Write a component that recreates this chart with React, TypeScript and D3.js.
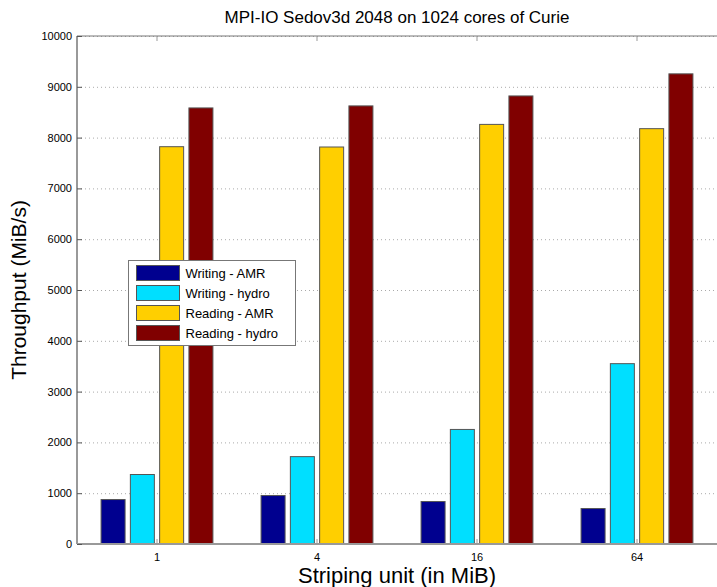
import React, { useRef, useEffect } from "react";
import * as d3 from "d3";

// dati
const categories = ["1", "4", "16", "64"];
const seriesNames = ["Writing - AMR", "Writing - hydro", "Reading - AMR", "Reading - hydro"];
const writingAMR = [875, 954, 836, 698];
const writingHydro = [1368, 1720, 2255, 3550];
const readingAMR = [7821, 7815, 8260, 8176];
const readingHydro = [8584, 8624, 8820, 9255];
const yTicks = [0, 1000, 2000, 3000, 4000, 5000, 6000, 7000, 8000, 9000, 10000];
const colors = ["#00008f", "#00dfff", "#ffcf00", "#800000"];

const W = 717;
const H = 587;
const margin = { top: 36, right: 0, bottom: 43, left: 77 };
const font = "'Liberation Sans', Arial, Helvetica, sans-serif";

export default function App() {
  const svgRef = useRef<SVGSVGElement>(null);

  useEffect(() => {
    const svg = d3.select(svgRef.current);
    svg.selectAll("*").remove();

    const series = [writingAMR, writingHydro, readingAMR, readingHydro];

    const x = d3.scaleLinear().domain([0.5, categories.length + 0.5]).range([margin.left, W - margin.right]);
    const y = d3.scaleLinear().domain([0, 10000]).range([H - margin.bottom, margin.top]);

    // griglia orizzontale tratteggiata
    svg.append("g")
      .selectAll("line")
      .data(yTicks.slice(1))
      .join("line")
      .attr("x1", margin.left)
      .attr("x2", W)
      .attr("y1", d => y(d) + 0.5)
      .attr("y2", d => y(d) + 0.5)
      .attr("stroke", "#aaa")
      .attr("stroke-dasharray", "1,3");

    // barre raggruppate
    const step = 0.183;
    const barW = 0.15;
    series.forEach((vals, si) => {
      const off = (si - 1.5) * step;
      svg.append("g")
        .selectAll("rect")
        .data(vals)
        .join("rect")
        .attr("x", (d, i) => x(i + 1 + off - barW / 2))
        .attr("width", x(barW) - x(0))
        .attr("y", d => y(d))
        .attr("height", d => y(0) - y(d))
        .attr("fill", colors[si])
        .attr("stroke", "#555")
        .attr("stroke-width", 1);
    });

    // assi
    const axisColor = "#999";
    svg.append("line")
      .attr("x1", margin.left).attr("x2", margin.left)
      .attr("y1", y(10000)).attr("y2", y(0))
      .attr("stroke", axisColor).attr("stroke-width", 2);
    svg.append("line")
      .attr("x1", margin.left).attr("x2", W)
      .attr("y1", y(0)).attr("y2", y(0))
      .attr("stroke", axisColor).attr("stroke-width", 2);
    svg.append("line")
      .attr("x1", margin.left).attr("x2", W)
      .attr("y1", y(10000)).attr("y2", y(10000))
      .attr("stroke", "#777").attr("stroke-width", 1);

    // tick asse y
    const yt = svg.append("g");
    yt.selectAll("line.l")
      .data(yTicks)
      .join("line")
      .attr("x1", margin.left).attr("x2", margin.left + 5)
      .attr("y1", d => y(d) + 0.5).attr("y2", d => y(d) + 0.5)
      .attr("stroke", "#555");
    yt.selectAll("text")
      .data(yTicks)
      .join("text")
      .attr("x", margin.left - 5)
      .attr("y", d => y(d) + 4)
      .attr("text-anchor", "end")
      .style("font-family", font)
      .style("font-size", "11px")
      .attr("fill", "#000")
      .text(d => d);

    // tick asse x
    const xt = svg.append("g");
    categories.forEach((c, i) => {
      xt.append("line")
        .attr("x1", x(i + 1)).attr("x2", x(i + 1))
        .attr("y1", y(0)).attr("y2", y(0) - 5)
        .attr("stroke", "#999");
      xt.append("line")
        .attr("x1", x(i + 1)).attr("x2", x(i + 1))
        .attr("y1", y(10000)).attr("y2", y(10000) + 5)
        .attr("stroke", "#999");
      xt.append("text")
        .attr("x", x(i + 1))
        .attr("y", y(0) + 17)
        .attr("text-anchor", "middle")
        .style("font-family", font)
        .style("font-size", "11px")
        .text(c);
    });

    // titoli
    svg.append("text")
      .attr("x", 397).attr("y", 23)
      .attr("text-anchor", "middle")
      .style("font-family", font)
      .style("font-size", "17px")
      .text("MPI-IO Sedov3d 2048 on 1024 cores of Curie");
    svg.append("text")
      .attr("x", 397).attr("y", 583)
      .attr("text-anchor", "middle")
      .style("font-family", font)
      .style("font-size", "22px")
      .text("Striping unit (in MiB)");
    svg.append("text")
      .attr("transform", `translate(26, ${(y(0) + y(10000)) / 2}) rotate(-90)`)
      .attr("text-anchor", "middle")
      .style("font-family", font)
      .style("font-size", "21px")
      .text("Throughput (MiB/s)");

    // legenda
    const lg = svg.append("g").attr("transform", "translate(128.5, 260.5)");
    lg.append("rect")
      .attr("width", 167).attr("height", 85)
      .attr("fill", "#fff").attr("stroke", "#777");
    seriesNames.forEach((n, i) => {
      lg.append("rect")
        .attr("x", 8).attr("y", 5 + i * 20)
        .attr("width", 43).attr("height", 15)
        .attr("fill", colors[i]).attr("stroke", "#555");
      lg.append("text")
        .attr("x", 57).attr("y", 17 + i * 20)
        .style("font-family", font)
        .style("font-size", "13px")
        .text(n);
    });
  }, []);

  return (
    <div style={{ width: W, height: H }}>
      <svg ref={svgRef} width={W} height={H} style={{ position: "absolute", left: 0, top: 0, background: "#fff" }} />
    </div>
  );
}
